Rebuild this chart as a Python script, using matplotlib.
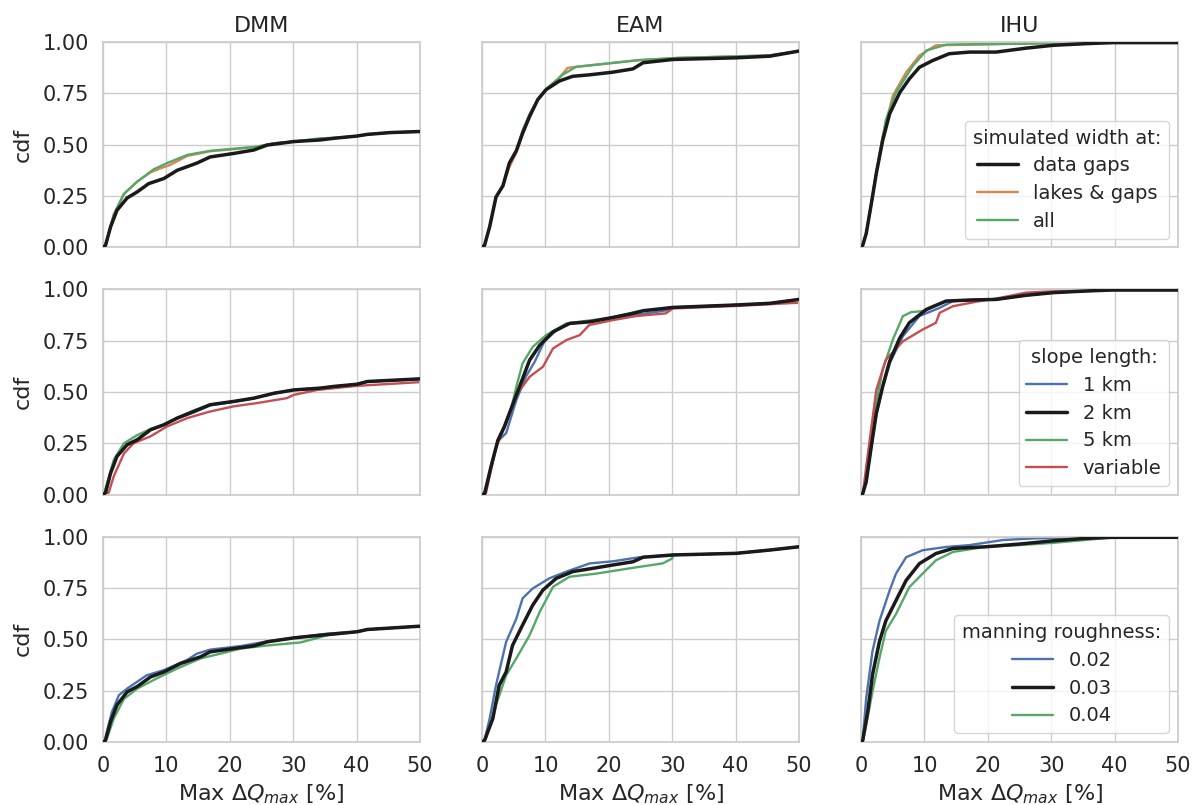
import numpy as np
import matplotlib.pyplot as plt
import seaborn as sns

sns.set_theme(style="whitegrid", font_scale=1.0)
plt.rcParams['font.family'] = ['DejaVu Sans']

pal = sns.color_palette("deep")
BLUE, ORANGE, GREEN, RED = pal[0], pal[1], pal[2], pal[3]

models = ["DMM", "EAM", "IHU"]
xticks = [0, 10, 20, 30, 40, 50]
yticks = [0.0, 0.25, 0.5, 0.75, 1.0]

# ---- row 1: simulated width (max dQ [%], cdf) ----
dmm_gaps = [(0, 0), (0.4, 0.01), (1.2, 0.10), (2.2, 0.18), (3.8, 0.24), (5.4, 0.27),
            (7.2, 0.31), (9.6, 0.335), (11.7, 0.375), (14.8, 0.41), (16.9, 0.44),
            (20.6, 0.457), (23.8, 0.474), (25.9, 0.498), (30.1, 0.515), (34.3, 0.523),
            (36.4, 0.531), (40.1, 0.542), (41.7, 0.55), (45.4, 0.559), (50, 0.564)]
dmm_lakes = [(0, 0), (0.4, 0.01), (1.7, 0.16), (3.3, 0.26), (5.4, 0.32), (7.5, 0.365),
             (9.0, 0.384), (10.5, 0.40), (13.3, 0.445), (16.9, 0.468), (20.6, 0.478),
             (24.3, 0.49), (27.0, 0.507), (30.1, 0.515), (34.3, 0.528), (36.4, 0.531),
             (40.1, 0.542), (41.7, 0.55), (45.4, 0.559), (50, 0.564)]
dmm_all = [(0, 0), (0.4, 0.01), (1.7, 0.16), (3.3, 0.26), (5.4, 0.32), (8.0, 0.38),
           (10.1, 0.41), (13.3, 0.45), (16.9, 0.47), (20.6, 0.48), (24.3, 0.49),
           (27.0, 0.507), (30.1, 0.515), (34.3, 0.531), (36.4, 0.533), (40.1, 0.542),
           (41.7, 0.55), (45.4, 0.559), (50, 0.564)]

eam_gaps = [(0, 0), (0.4, 0.01), (1.2, 0.10), (2.2, 0.245), (3.3, 0.30), (4.3, 0.41),
            (5.4, 0.47), (6.4, 0.556), (7.5, 0.637), (8.8, 0.72), (10.1, 0.768),
            (12.2, 0.81), (14.3, 0.833), (16.9, 0.84), (20.6, 0.853), (23.8, 0.869),
            (25.4, 0.899), (30.1, 0.915), (40.1, 0.923), (45.4, 0.931), (50, 0.956)]
eam_lakes = [(0, 0), (0.4, 0.01), (1.2, 0.10), (2.2, 0.245), (3.3, 0.30), (4.3, 0.39),
             (5.4, 0.46), (6.4, 0.55), (7.5, 0.64), (8.8, 0.72), (10.1, 0.77),
             (11.2, 0.80), (12.0, 0.82), (13.5, 0.874), (14.8, 0.879), (24.8, 0.912),
             (31.2, 0.923), (40.1, 0.93), (45.4, 0.935), (50, 0.956)]
eam_all = [(0, 0), (0.4, 0.01), (1.2, 0.10), (2.2, 0.245), (3.3, 0.30), (4.3, 0.41),
           (5.4, 0.47), (6.4, 0.57), (7.5, 0.65), (8.8, 0.72), (10.1, 0.77),
           (12.7, 0.84), (14.8, 0.879), (24.8, 0.912), (31.2, 0.923), (40.1, 0.93),
           (45.4, 0.935), (50, 0.956)]

ihu_gaps = [(0, 0), (0.26, 0.01), (0.8, 0.066), (1.6, 0.21), (2.4, 0.36), (3.4, 0.52),
            (4.5, 0.65), (6.1, 0.754), (7.6, 0.82), (9.2, 0.877), (11.3, 0.91),
            (13.9, 0.943), (17.1, 0.951), (21.3, 0.951), (26.0, 0.97), (30.3, 0.984),
            (35.5, 0.992), (39.7, 0.997), (50, 0.997)]
ihu_lakes = [(0, 0), (0.26, 0.01), (0.8, 0.066), (1.6, 0.21), (2.4, 0.37), (3.4, 0.54),
             (5.0, 0.738), (7.1, 0.852), (9.2, 0.934), (11.8, 0.984), (25.0, 0.992),
             (35.5, 0.997), (50, 0.997)]
ihu_all = [(0, 0), (0.26, 0.01), (0.8, 0.066), (1.6, 0.21), (2.4, 0.36), (3.9, 0.62),
           (5.5, 0.754), (8.2, 0.885), (10.3, 0.959), (13.4, 0.987), (25.0, 0.992),
           (35.5, 0.997), (50, 0.997)]

# ---- row 2: slope length ----
dmm_2km = [(0, 0), (0.4, 0.01), (1.2, 0.105), (2.2, 0.186), (3.8, 0.243), (5.4, 0.267),
           (7.5, 0.316), (9.6, 0.34), (11.7, 0.373), (14.3, 0.405), (16.9, 0.438),
           (20.6, 0.454), (23.8, 0.47), (27.0, 0.494), (30.1, 0.51), (34.3, 0.519),
           (36.4, 0.527), (40.1, 0.538), (41.7, 0.551), (50, 0.564)]
dmm_1km = [(0, 0), (0.4, 0.01), (1.2, 0.11), (2.2, 0.19), (3.8, 0.245), (5.4, 0.27),
           (7.5, 0.318), (9.6, 0.342), (11.7, 0.37), (14.3, 0.40), (16.9, 0.435),
           (20.6, 0.452), (23.8, 0.47), (27.0, 0.494), (30.1, 0.51), (34.3, 0.519),
           (36.4, 0.527), (40.1, 0.538), (41.7, 0.551), (50, 0.562)]
dmm_5km = [(0, 0), (0.4, 0.03), (1.7, 0.17), (3.3, 0.25), (5.4, 0.29), (7.5, 0.32),
           (9.6, 0.34), (11.7, 0.373), (14.3, 0.41), (16.9, 0.438), (20.6, 0.454),
           (23.8, 0.47), (27.0, 0.494), (30.1, 0.51), (34.3, 0.519), (40.1, 0.538),
           (41.7, 0.551), (50, 0.564)]
dmm_var = [(0, 0), (0.9, 0.01), (1.7, 0.09), (3.3, 0.20), (4.8, 0.25), (7.5, 0.284),
           (10.1, 0.332), (13.3, 0.373), (16.9, 0.405), (20.6, 0.43), (24.3, 0.446),
           (29.0, 0.47), (30.1, 0.486), (33.8, 0.51), (40.1, 0.53), (50, 0.548)]

eam_2km = [(0, 0), (0.4, 0.005), (1.4, 0.135), (2.5, 0.265), (3.5, 0.33), (4.6, 0.42),
           (5.9, 0.525), (7.5, 0.655), (9.1, 0.728), (11.2, 0.793), (13.8, 0.834),
           (17.0, 0.842), (20.6, 0.863), (23.8, 0.883), (25.4, 0.896), (30.1, 0.912),
           (40.1, 0.924), (45.4, 0.932), (50, 0.951)]
eam_1km = [(0, 0), (0.4, 0.005), (1.4, 0.13), (2.5, 0.26), (3.8, 0.30), (5.4, 0.46),
           (6.9, 0.574), (8.3, 0.647), (9.8, 0.745), (11.7, 0.80), (13.8, 0.834),
           (17.0, 0.842), (20.6, 0.863), (25.9, 0.883), (29.6, 0.90), (30.1, 0.912),
           (40.1, 0.924), (45.4, 0.932), (50, 0.951)]
eam_5km = [(0, 0), (0.4, 0.005), (1.4, 0.135), (2.5, 0.265), (3.5, 0.33), (4.6, 0.42),
           (5.4, 0.525), (6.4, 0.64), (8.0, 0.72), (10.1, 0.777), (13.3, 0.834),
           (20.6, 0.863), (24.3, 0.891), (30.1, 0.912), (40.1, 0.924), (45.4, 0.932),
           (50, 0.951)]
eam_var = [(0, 0), (0.6, 0.005), (2.2, 0.23), (3.8, 0.346), (5.4, 0.485), (7.5, 0.574),
           (9.6, 0.623), (11.2, 0.712), (13.3, 0.753), (15.4, 0.777), (16.9, 0.826),
           (20.6, 0.85), (24.3, 0.87), (29.0, 0.883), (30.1, 0.907), (40.1, 0.919),
           (50, 0.935)]

ihu_2km = [(0, 0), (0.26, 0.005), (0.8, 0.062), (1.6, 0.233), (2.4, 0.396), (3.4, 0.527),
           (4.5, 0.649), (6.1, 0.763), (7.6, 0.837), (10.3, 0.902), (13.4, 0.943),
           (17.1, 0.948), (21.3, 0.951), (26.0, 0.971), (30.3, 0.984), (35.5, 0.992),
           (39.7, 0.997), (50, 0.997)]
ihu_1km = [(0, 0), (0.26, 0.005), (0.8, 0.062), (1.6, 0.233), (2.4, 0.39), (3.4, 0.52),
           (4.5, 0.64), (6.6, 0.772), (9.2, 0.87), (12.4, 0.91), (14.5, 0.943),
           (17.1, 0.948), (21.3, 0.951), (26.0, 0.971), (30.3, 0.984), (35.5, 0.992),
           (39.7, 0.997), (50, 0.997)]
ihu_5km = [(0, 0), (0.26, 0.005), (0.8, 0.07), (1.6, 0.25), (2.4, 0.45), (3.4, 0.608),
           (5.0, 0.755), (6.6, 0.87), (7.9, 0.889), (9.7, 0.894), (11.3, 0.918),
           (13.4, 0.943), (17.1, 0.948), (21.3, 0.951), (26.0, 0.971), (30.3, 0.984),
           (35.5, 0.992), (39.7, 0.997), (50, 0.997)]
ihu_var = [(0, 0), (0.3, 0.01), (0.8, 0.135), (2.4, 0.51), (3.9, 0.657), (6.6, 0.747),
           (9.7, 0.804), (11.8, 0.837), (12.4, 0.886), (14.5, 0.918), (18.7, 0.943),
           (21.3, 0.955), (26.0, 0.984), (31.3, 0.992), (39.7, 0.997), (50, 0.997)]

# ---- row 3: manning roughness ----
dmm_n03 = [(0, 0), (0.4, 0.008), (1.2, 0.10), (2.2, 0.18), (3.8, 0.244), (5.4, 0.27),
           (7.5, 0.317), (9.6, 0.341), (12.2, 0.382), (15.4, 0.415), (16.9, 0.439),
           (20.6, 0.455), (23.8, 0.468), (25.9, 0.488), (30.1, 0.507), (34.3, 0.52),
           (40.1, 0.537), (41.7, 0.548), (50, 0.564)]
dmm_n02 = [(0, 0), (0.3, 0.01), (0.6, 0.05), (1.4, 0.146), (2.5, 0.228), (3.8, 0.26),
           (6.9, 0.325), (9.6, 0.35), (13.3, 0.40), (14.8, 0.43), (16.9, 0.45),
           (21.7, 0.467), (25.9, 0.49), (31.2, 0.512), (35.4, 0.528), (40.1, 0.537),
           (41.7, 0.548), (50, 0.564)]
dmm_n04 = [(0, 0), (0.6, 0.016), (1.7, 0.114), (3.3, 0.21), (5.4, 0.26), (8.5, 0.31),
           (11.7, 0.358), (15.4, 0.407), (18.5, 0.43), (21.7, 0.455), (25.9, 0.47),
           (31.2, 0.485), (35.4, 0.52), (40.1, 0.537), (41.7, 0.548), (50, 0.564)]

eam_n03 = [(0, 0), (0.4, 0.008), (1.7, 0.114), (2.7, 0.276), (3.8, 0.341), (4.8, 0.47),
           (6.4, 0.57), (8.0, 0.667), (9.6, 0.74), (11.7, 0.797), (14.3, 0.83),
           (17.5, 0.846), (20.6, 0.862), (23.8, 0.878), (25.4, 0.90), (30.1, 0.911),
           (40.1, 0.919), (45.4, 0.935), (50, 0.951)]
eam_n02 = [(0, 0), (0.4, 0.01), (1.2, 0.114), (2.2, 0.276), (3.8, 0.488), (5.4, 0.60),
           (6.4, 0.70), (8.0, 0.748), (10.6, 0.797), (13.3, 0.83), (17.0, 0.87),
           (20.6, 0.88), (24.8, 0.90), (30.1, 0.911), (40.1, 0.919), (45.4, 0.935),
           (50, 0.951)]
eam_n04 = [(0, 0), (0.6, 0.016), (2.2, 0.18), (3.8, 0.325), (5.4, 0.407), (7.5, 0.52),
           (9.1, 0.634), (11.2, 0.756), (13.8, 0.805), (18.0, 0.82), (23.3, 0.846),
           (28.5, 0.87), (30.0, 0.894), (30.1, 0.911), (40.1, 0.919), (45.4, 0.935),
           (50, 0.951)]

ihu_n03 = [(0, 0), (0.26, 0.008), (1.05, 0.148), (1.8, 0.328), (2.9, 0.49), (3.9, 0.59),
           (5.5, 0.689), (7.1, 0.787), (9.2, 0.869), (11.8, 0.918), (14.5, 0.943),
           (19.7, 0.951), (24.9, 0.964), (30.3, 0.98), (35.4, 0.992), (39.7, 0.997),
           (50, 0.997)]
ihu_n02 = [(0, 0), (0.26, 0.01), (0.8, 0.213), (1.8, 0.443), (2.9, 0.59), (4.5, 0.738),
           (5.5, 0.82), (7.1, 0.90), (9.7, 0.934), (13.4, 0.95), (17.1, 0.959),
           (22.4, 0.984), (27.5, 0.992), (39.7, 0.997), (50, 0.997)]
ihu_n04 = [(0, 0), (0.3, 0.008), (0.8, 0.082), (1.8, 0.246), (2.9, 0.41), (3.9, 0.541),
           (5.5, 0.623), (7.6, 0.754), (9.7, 0.82), (11.8, 0.885), (14.5, 0.926),
           (19.7, 0.951), (24.9, 0.959), (30.3, 0.97), (35.4, 0.984), (39.7, 0.997),
           (50, 0.997)]

width_title = "simulated width at:"
width_labels = ["data gaps", "lakes & gaps", "all"]
slope_title = "slope length:"
slope_labels = ["1 km", "2 km", "5 km", "variable"]
manning_title = "manning roughness:"
manning_labels = ["0.02", "0.03", "0.04"]

rows = [
    (width_title, width_labels, ["k", ORANGE, GREEN],
     [[dmm_gaps, dmm_lakes, dmm_all], [eam_gaps, eam_lakes, eam_all],
      [ihu_gaps, ihu_lakes, ihu_all]]),
    (slope_title, slope_labels, [BLUE, "k", GREEN, RED],
     [[dmm_1km, dmm_2km, dmm_5km, dmm_var], [eam_1km, eam_2km, eam_5km, eam_var],
      [ihu_1km, ihu_2km, ihu_5km, ihu_var]]),
    (manning_title, manning_labels, [BLUE, "k", GREEN],
     [[dmm_n02, dmm_n03, dmm_n04], [eam_n02, eam_n03, eam_n04],
      [ihu_n02, ihu_n03, ihu_n04]]),
]

fig, axes = plt.subplots(3, 3, figsize=(11.95, 8.05), dpi=100, sharex=True, sharey=True)
fig.subplots_adjust(left=0.0862, right=0.9858, top=0.9478, bottom=0.0783,
                    wspace=0.196, hspace=0.205)

for r, (title, labels, colors, panels) in enumerate(rows):
    for c, curves in enumerate(panels):
        ax = axes[r, c]
        # colored runs first, the black reference run on top
        order = sorted(range(len(curves)), key=lambda i: colors[i] == "k")
        hmap = {}
        for i in order:
            pts = np.array(curves[i])
            black = colors[i] == "k"
            line, = ax.plot(pts[:, 0], pts[:, 1], color=colors[i],
                            lw=2.5 if black else 1.7, label=labels[i],
                            zorder=3 if black else 2)
            hmap[i] = line
        handles = [hmap[i] for i in range(len(curves))]
        ax.set_xlim(0, 50)
        ax.set_ylim(0, 1)
        ax.set_xticks(xticks)
        ax.set_yticks(yticks)
        ax.tick_params(labelsize=15, pad=4)
        for s in ax.spines.values():
            s.set_color("0.8")
        if r == 0:
            ax.set_title(models[c], fontsize=16, pad=7)
        if c == 0:
            ax.set_ylabel("cdf", fontsize=16, labelpad=7)
        if r == 2:
            ax.set_xlabel(r"Max $\Delta Q_{max}$ [%]", fontsize=16, labelpad=5)
        if c == 2:
            ax.legend(handles=handles, title=title, loc="lower right",
                      fontsize=14, title_fontsize=14, frameon=True,
                      handlelength=2.1, borderaxespad=0.45, labelspacing=0.45)

fig.savefig("out.png", dpi=100)
